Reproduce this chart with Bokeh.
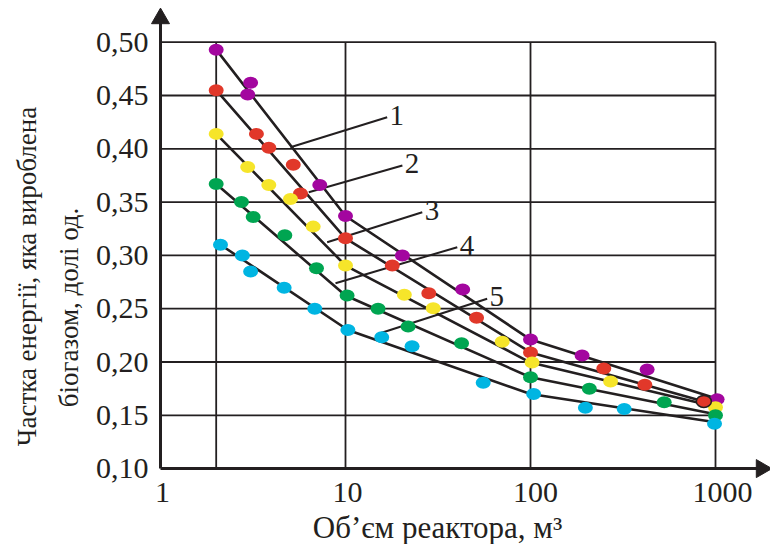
import math
from bokeh.plotting import figure
from bokeh.models import Range1d
from bokeh.core.properties import value
from bokeh.embed import file_html
from bokeh.resources import INLINE

# ---- data ----
x_ticks = [1, 10, 100, 1000]
x_tick_labels = ["1", "10", "100", "1000"]
y_ticks = [0.10, 0.15, 0.20, 0.25, 0.30, 0.35, 0.40, 0.45, 0.50]
y_tick_labels = ["0,10", "0,15", "0,20", "0,25", "0,30", "0,35", "0,40", "0,45", "0,50"]
x_grid = [2, 10, 100, 1000]

# measured points
s1_x = [2, 3.07, 2.96, 7.26, 10, 20.3, 43, 100, 190, 427, 1020]
s1_y = [0.493, 0.462, 0.451, 0.366, 0.337, 0.300, 0.268, 0.221, 0.206, 0.193, 0.165]
s2_x = [2, 3.30, 3.85, 5.22, 5.71, 10, 17.9, 28.2, 51.1, 100, 249, 415, 865]
s2_y = [0.455, 0.414, 0.401, 0.385, 0.358, 0.316, 0.2905, 0.2645, 0.2415, 0.209, 0.194, 0.1786, 0.163]
s3_x = [2, 2.96, 3.85, 5.04, 6.69, 10, 20.8, 29.8, 70.3, 102, 271, 1000]
s3_y = [0.414, 0.383, 0.366, 0.353, 0.327, 0.2905, 0.263, 0.2505, 0.219, 0.1995, 0.1816, 0.1576]
s4_x = [2, 2.74, 3.17, 4.70, 6.97, 10.2, 15.0, 21.8, 42.4, 100, 208, 528, 1000]
s4_y = [0.367, 0.350, 0.336, 0.319, 0.288, 0.2624, 0.250, 0.2333, 0.2176, 0.1857, 0.1749, 0.1623, 0.150]
s5_x = [2.11, 2.77, 3.07, 4.66, 6.82, 10.3, 15.7, 22.9, 55.5, 104, 198, 321, 988]
s5_y = [0.310, 0.300, 0.285, 0.2696, 0.250, 0.230, 0.2233, 0.2148, 0.1805, 0.170, 0.157, 0.156, 0.142]

# approximating broken lines
l1_x = [2, 10, 100, 1000]
l1_y = [0.493, 0.337, 0.221, 0.166]
l2_x = [2, 10, 100, 865]
l2_y = [0.455, 0.316, 0.209, 0.163]
l3_x = [2, 10, 100, 1000]
l3_y = [0.414, 0.2905, 0.1995, 0.158]
l4_x = [2, 10, 100, 1000]
l4_y = [0.367, 0.2624, 0.1857, 0.151]
l5_x = [2.11, 10.3, 100, 1000]
l5_y = [0.310, 0.230, 0.170, 0.1435]

# curve number labels with leader lines
num_text = ["1", "2", "3", "4", "5"]
lead_x0 = [5.04, 6.33, 7.96, 8.83, 15.1]
lead_y0 = [0.4015, 0.3593, 0.3124, 0.2739, 0.2265]
lead_x1 = [16.8, 20.3, 26.0, 40.2, 58.3]
lead_y1 = [0.4296, 0.3843, 0.3405, 0.3077, 0.2593]

x_title = "Об’єм реактора, м³"
y_title_1 = "Частка енергії, яка вироблена"
y_title_2 = "біогазом, долі од."

colors = ["#A3069F", "#E1382A", "#F6E52A", "#00A551", "#00B5E2"]
ink = "#231F20"
serif = value("Liberation Serif")

# page pixel -> data helpers (layout only)
def px_x(px):
    return 10 ** ((px - 160) / 185.0)

def px_y(py):
    return 0.50 - (py - 41.7) / 1066.0

W, H = 770, 544
p = figure(width=W, height=H, x_axis_type="log",
           x_range=Range1d(px_x(0), px_x(W)), y_range=Range1d(px_y(H), px_y(0)),
           output_backend="svg", toolbar_location=None,
           x_axis_location=None, y_axis_location=None, min_border=0)
p.outline_line_color = None
p.xgrid.visible = False
p.ygrid.visible = False

# grid
n = len(y_ticks) - 1
p.segment(x0=[x_ticks[0]] * n, y0=y_ticks[1:], x1=[x_ticks[-1]] * n, y1=y_ticks[1:],
          line_color=ink, line_width=1.8)
p.segment(x0=x_grid, y0=[y_ticks[0]] * len(x_grid), x1=x_grid, y1=[y_ticks[-1]] * len(x_grid),
          line_color=ink, line_width=1.8)

# lines
for lx, ly in [(l1_x, l1_y), (l2_x, l2_y), (l3_x, l3_y), (l4_x, l4_y), (l5_x, l5_y)]:
    p.line(lx, ly, line_color=ink, line_width=2.6)

# leaders + numbers
p.segment(x0=lead_x0, y0=lead_y0, x1=lead_x1, y1=lead_y1, line_color=ink, line_width=2)
p.text(x=[v * 1.03 for v in lead_x1], y=[v + 0.002 for v in lead_y1], text=num_text,
       text_font=serif, text_font_size="29px", text_color=ink,
       text_align="left", text_baseline="middle")

# points
for sx, sy, c in [(s1_x, s1_y, colors[0]), (s2_x, s2_y, colors[1]), (s3_x, s3_y, colors[2]),
                  (s4_x, s4_y, colors[3]), (s5_x, s5_y, colors[4])]:
    p.ellipse(x=sx, y=sy, width=15, height=12, width_units="screen", height_units="screen",
              fill_color=c, line_color=None)
# the dark-outlined red point near the right end
p.ellipse(x=s2_x[-1:], y=s2_y[-1:], width=15, height=12, width_units="screen", height_units="screen",
          fill_color=colors[1], line_color=ink, line_width=1.5)

# axes with arrowheads
y_tip = px_y(18)
x_tip = px_x(761)
p.line([1, 1], [y_ticks[0], y_tip], line_color=ink, line_width=3)
p.line([1, x_tip], [y_ticks[0], y_ticks[0]], line_color=ink, line_width=3)
p.scatter(x=[1], y=[y_tip], marker="triangle", size=18, angle=0,
          fill_color=ink, line_color=ink)
p.scatter(x=[x_tip], y=[y_ticks[0]], marker="triangle", size=18, angle=-math.pi / 2,
          fill_color=ink, line_color=ink)

# tick labels
p.text(x=[px_x(148)] * len(y_ticks), y=y_ticks, text=y_tick_labels, text_font=serif,
       text_font_size="30px", text_color=ink, text_align="right", text_baseline="middle")
p.text(x=x_ticks, y=[px_y(492)] * len(x_ticks), text=x_tick_labels, text_font=serif,
       text_font_size="30px", text_color=ink, text_align="center", text_baseline="middle",
       x_offset=[2, 2, 5, 7])

# axis titles
p.text(x=[px_x(437)], y=[px_y(527)], text=[x_title], text_font=serif, text_font_size="31px",
       text_color=ink, text_align="center", text_baseline="middle")
p.text(x=[px_x(26)], y=[px_y(276)], text=[y_title_1], text_font=serif, text_font_size="27px",
       text_color=ink, text_align="center", text_baseline="middle", angle=math.pi / 2)
p.text(x=[px_x(68)], y=[px_y(307)], text=[y_title_2], text_font=serif, text_font_size="27px",
       text_color=ink, text_align="center", text_baseline="middle", angle=math.pi / 2)

open("out.html", "w").write(file_html(p, INLINE))
